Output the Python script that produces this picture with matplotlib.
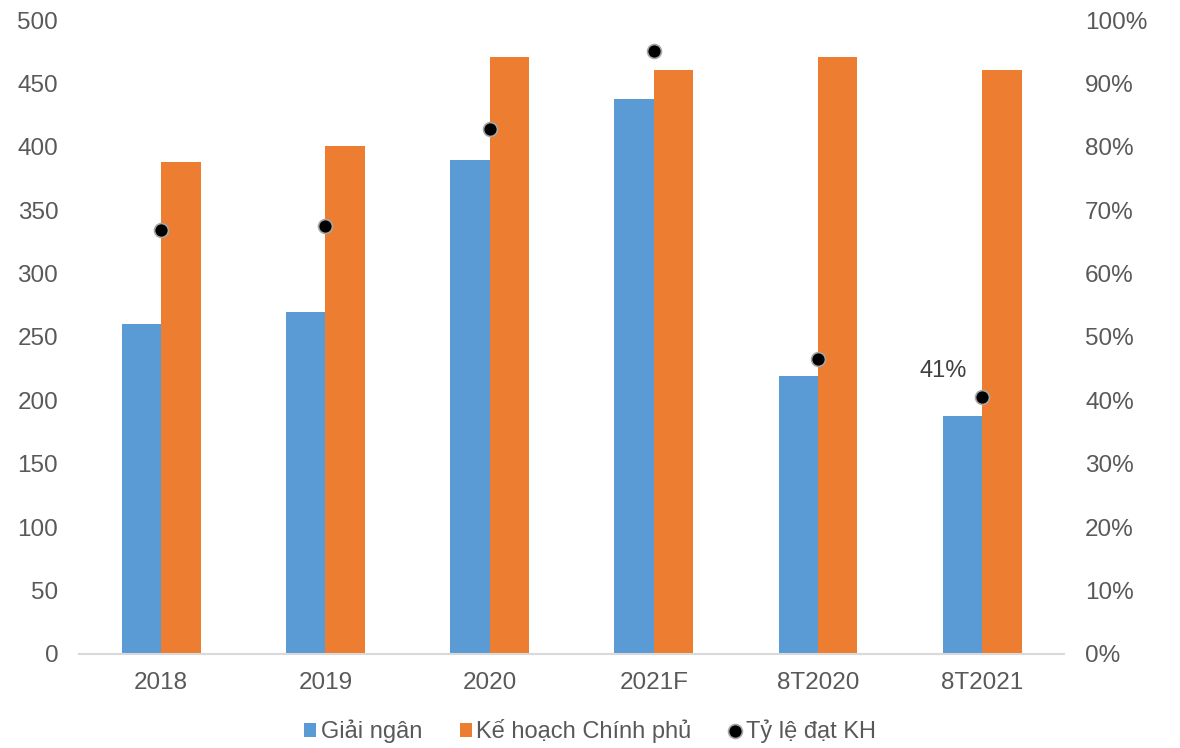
import numpy as np
import matplotlib.pyplot as plt
from matplotlib.ticker import PercentFormatter

plt.rcParams['font.family'] = ['Liberation Sans', 'DejaVu Sans']

categories = ['2018', '2019', '2020', '2021F', '8T2020', '8T2021']
giai_ngan = [260, 270, 390, 438, 219, 188]
ke_hoach = [388, 401, 471, 461, 471, 461]
ty_le = [66.9, 67.5, 82.8, 95.1, 46.5, 40.5]

blue = '#5B9BD5'
orange = '#ED7D31'
txt = '#595959'

fig = plt.figure(figsize=(11.8, 7.48), dpi=100)
ax = fig.add_axes([0.067, 0.126, 0.835, 0.847])
ax2 = ax.twinx()

x = np.arange(len(categories))
w = 0.24
ax.bar(x - w/2, giai_ngan, w, color=blue, label='Giải ngân', zorder=2)
ax.bar(x + w/2, ke_hoach, w, color=orange, label='Kế hoạch Chính phủ', zorder=2)
ax2.plot(x, ty_le, 'o', color='black', markersize=10, markeredgecolor='#A6A6A6',
         markeredgewidth=1.2, label='Tỷ lệ đạt KH', zorder=3)
ax2.annotate('41%', (x[-1], ty_le[-1]), xytext=(-28, 19), textcoords='offset points',
             ha='center', va='center', fontsize=17, color='#404040')

ax.set_xlim(-0.5, len(categories) - 0.5)
ax.set_ylim(0, 500)
ax.set_yticks(np.arange(0, 501, 50))
ax2.set_ylim(0, 100)
ax2.set_yticks(np.arange(0, 101, 10))
ax2.yaxis.set_major_formatter(PercentFormatter(decimals=0))

ax.set_xticks(x)
ax.set_xticklabels(categories)
for a in (ax, ax2):
    for s in a.spines.values():
        s.set_visible(False)
    a.tick_params(length=0, labelsize=17.5, colors=txt)
ax.spines['bottom'].set_visible(True)
ax.spines['bottom'].set_color('#D9D9D9')
ax.spines['bottom'].set_linewidth(1.5)
ax.tick_params(axis='x', pad=13)
ax.tick_params(axis='y', pad=15)
ax2.tick_params(axis='y', pad=15)

h1, l1 = ax.get_legend_handles_labels()
h2, l2 = ax2.get_legend_handles_labels()
fig.legend(h1 + h2, l1 + l2, loc='lower center', bbox_to_anchor=(0.5, -0.022), ncol=3,
           frameon=False, fontsize=17, labelcolor=txt, handlelength=0.5, handleheight=0.5,
           handletextpad=0.2, columnspacing=1.6)

fig.savefig('out.png', dpi=100)
